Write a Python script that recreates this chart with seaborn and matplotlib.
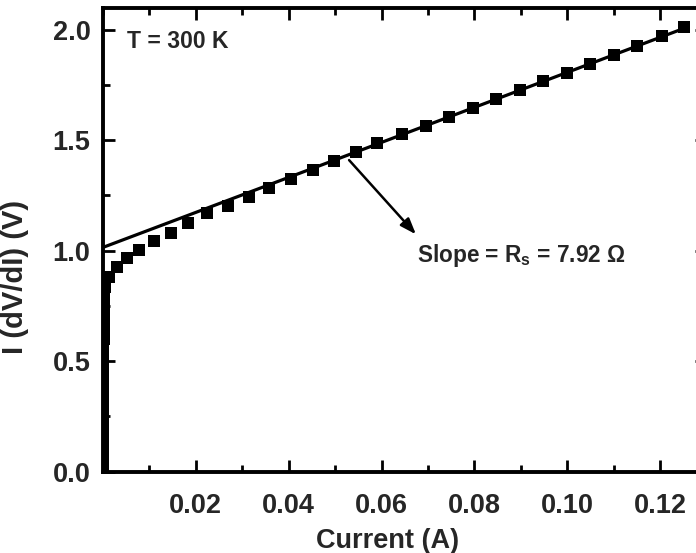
import numpy as np
import pandas as pd
import matplotlib
matplotlib.use("Agg")
import matplotlib.pyplot as plt
from matplotlib.ticker import MultipleLocator, FixedLocator
import seaborn as sns

# Measured current (A) and I*dV/dI (V) at T = 300 K
current = [
    0.00000, 0.00000, 0.00000, 0.00000, 0.00000, 0.00001, 0.00001, 0.00002,
    0.00002, 0.00003, 0.00004, 0.00005, 0.00006, 0.00008, 0.00010, 0.00012,
    0.00015, 0.00018, 0.00022, 0.00026, 0.00032, 0.00050,
    0.00125, 0.00306, 0.00522, 0.00772, 0.01095, 0.01455, 0.01836, 0.02246,
    0.02690, 0.03142, 0.03573, 0.04041, 0.04522, 0.04974, 0.05457, 0.05909,
    0.06450, 0.06960, 0.07460, 0.07970, 0.08470, 0.08980, 0.09480, 0.09990,
    0.10490, 0.11000, 0.11510, 0.12030, 0.12520,
]
idvdi = [
    0.000, 0.040, 0.080, 0.120, 0.160, 0.200, 0.240, 0.280,
    0.320, 0.360, 0.400, 0.440, 0.480, 0.520, 0.560, 0.600,
    0.640, 0.680, 0.720, 0.760, 0.795, 0.835,
    0.882, 0.925, 0.966, 1.003, 1.044, 1.081, 1.124, 1.169,
    1.203, 1.242, 1.285, 1.324, 1.365, 1.406, 1.445, 1.486,
    1.526, 1.566, 1.606, 1.646, 1.686, 1.726, 1.766, 1.806,
    1.846, 1.886, 1.928, 1.971, 2.011,
]

# Linear fit of the high-current region: slope is the series resistance
R_S = 7.92          # ohm
INTERCEPT = 1.015   # V
fit_range = [0.0, 0.1255]

x_ticks = [0.02, 0.04, 0.06, 0.08, 0.10, 0.12]
x_tick_labels = ["0.02", "0.04", "0.06", "0.08", "0.10", "0.12"]
y_ticks = [0.0, 0.5, 1.0, 1.5, 2.0]
y_tick_labels = ["0.0", "0.5", "1.0", "1.5", "2.0"]

data = pd.DataFrame({"current": current, "idvdi": idvdi})
fit = pd.DataFrame({"current": fit_range,
                    "idvdi": [INTERCEPT + R_S * c for c in fit_range]})

sns.set_theme(style="ticks")
FAMILY = ["Liberation Sans", "DejaVu Sans"]
plt.rcParams["font.family"] = FAMILY
plt.rcParams["font.weight"] = "bold"
plt.rcParams["mathtext.fontset"] = "custom"
plt.rcParams["mathtext.rm"] = "Liberation Sans:bold"
plt.rcParams["mathtext.bf"] = "Liberation Sans:bold"
plt.rcParams["mathtext.sf"] = "Liberation Sans"

fig = plt.figure(figsize=(6.96, 5.53), dpi=100)
# axes box runs slightly past the right edge of the canvas
ax = fig.add_axes([103 / 696, 81.3 / 553, 603.6 / 696, 464.1 / 553])

sns.lineplot(data=fit, x="current", y="idvdi", ax=ax, color="black",
             linewidth=2.3, zorder=3)
sns.scatterplot(data=data, x="current", y="idvdi", ax=ax, marker="s",
                s=84, color="black", edgecolor="black", linewidth=0,
                zorder=4, clip_on=True)

ax.set_xlim(0, 0.13)
ax.set_ylim(0, 2.1)

ax.xaxis.set_major_locator(FixedLocator(x_ticks))
ax.set_xticklabels(x_tick_labels)
ax.xaxis.set_minor_locator(MultipleLocator(0.01))
ax.yaxis.set_major_locator(FixedLocator(y_ticks))
ax.set_yticklabels(y_tick_labels)
ax.yaxis.set_minor_locator(MultipleLocator(0.25))

for side in ["left", "right", "top", "bottom"]:
    ax.spines[side].set_visible(True)
    ax.spines[side].set_linewidth(2.8)
    ax.spines[side].set_color("black")

ax.tick_params(which="both", direction="in", top=True, right=True,
               width=2.0, color="black")
ax.tick_params(which="major", length=8.6)
ax.tick_params(which="minor", length=5.0)
ax.tick_params(axis="x", which="major", pad=15)
ax.tick_params(axis="y", which="major", pad=9)
for lab in ax.get_xticklabels() + ax.get_yticklabels():
    lab.set_fontsize(19.5)
    lab.set_fontweight("bold")

ax.set_xlabel("Current (A)", fontsize=19.5, fontweight="bold")
ax.set_ylabel("I (dV/dI) (V)", fontsize=21, fontweight="bold")
ax.xaxis.set_label_coords(0.472, -0.122)
ax.yaxis.set_label_coords(-0.122, 0.42)

ax.text(0.0052, 1.916, "T = 300 K", fontsize=16.5, fontweight="bold",
        va="baseline", ha="left")

ax.annotate("", xy=(0.0674, 1.074), xytext=(0.053, 1.41),
            arrowprops=dict(arrowstyle="-|>,head_length=0.6,head_width=0.22",
                            color="black", lw=1.8, mutation_scale=16,
                            shrinkA=0, shrinkB=0))
ax.text(0.0676, 0.950, r"Slope = R$_\mathregular{s}$ = 7.92 $\mathsf{\Omega}$",
        fontsize=16.3, fontweight="bold", va="baseline", ha="left")

fig.savefig("out.png", dpi=100)
